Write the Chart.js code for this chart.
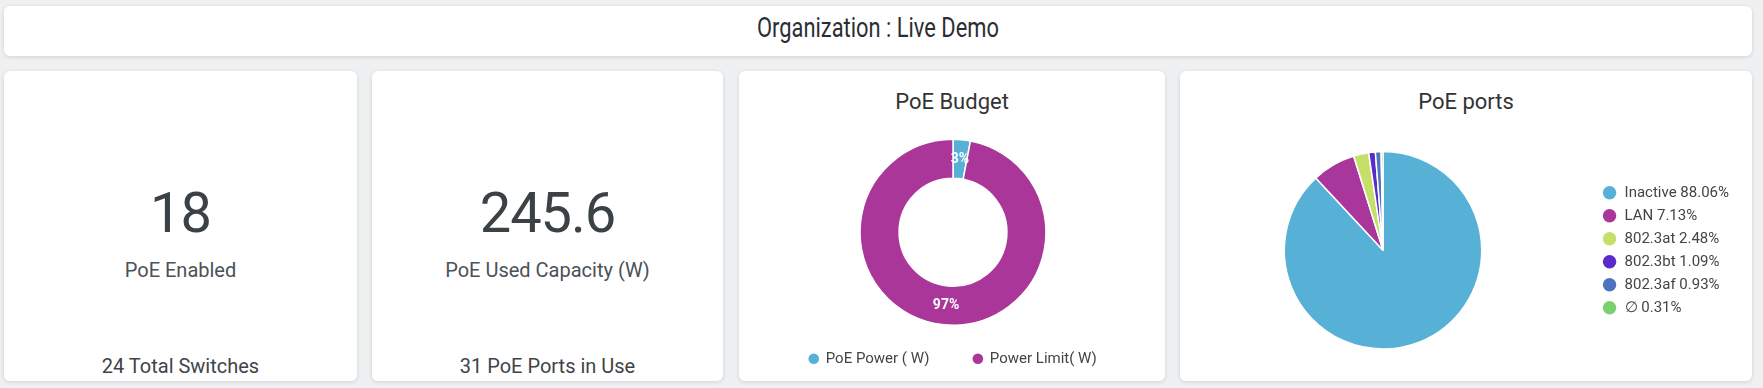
<!DOCTYPE html>
<html><head><meta charset="utf-8">
<script src="https://cdn.jsdelivr.net/npm/chart.js@4.4.1/dist/chart.umd.min.js"></script>
<style>
html,body{margin:0;padding:0;background:#eef0f2;width:1763px;height:388px;overflow:hidden;font-family:Roboto,sans-serif;}
.card{position:absolute;background:#fff;border-radius:6px;box-shadow:0 1px 4px rgba(0,0,0,0.13);}
.txt{position:absolute;left:0;right:0;text-align:center;line-height:1;white-space:nowrap;}
#hdr{left:4px;top:6px;width:1748px;height:50px;}
#hdr .txt{top:8.5px;font-size:27px;color:#2a2e33;transform:scaleX(0.81);transform-origin:center;}
.stat{top:71px;height:310px;}
.big{top:114px;font-size:56px;color:#3b4246;letter-spacing:-1px;}
.lbl{top:189px;font-size:20px;color:#4b5157;}
.foot{top:285px;font-size:20px;color:#3e4449;}
.ctitle{top:20px;font-size:22px;color:#333;}
canvas{position:absolute;left:0;top:0;}
#ports{left:-8px;}
</style></head>
<body>
<div class="card" id="hdr"><div class="txt" id="hdrText"></div></div>
<div class="card stat" id="c1" style="left:4px;width:353px;"></div>
<div class="card stat" id="c2" style="left:372px;width:351px;"></div>
<div class="card stat" id="c3" style="left:739px;width:426px;"><div class="txt ctitle" id="t3"></div><canvas id="budget" width="426" height="310"></canvas></div>
<div class="card stat" id="c4" style="left:1180px;width:572px;"><div class="txt ctitle" id="t4"></div><canvas id="ports" width="567" height="310"></canvas></div>
<script>
const headerTitle = 'Organization : Live Demo';
const statValues = ['18', '245.6'];
const statLabels = ['PoE Enabled', 'PoE Used Capacity (W)'];
const statFooters = ['24 Total Switches', '31 PoE Ports in Use'];
const chartTitles = ['PoE Budget', 'PoE ports'];

const budgetLabels = ['PoE Power ( W)', 'Power Limit( W)'];
const budgetValues = [245.6, 7920];
const budgetColors = ['#57b1d7', '#ab3699'];

const portLabels = ['Inactive', 'LAN', '802.3at', '802.3bt', '802.3af', '\u2205'];
const portValues = [88.06, 7.13, 2.48, 1.09, 0.93, 0.31];
const portColors = ['#57b0d6', '#a9369a', '#c6df69', '#5a2bca', '#4d74c0', '#7bd16f'];

document.getElementById('hdrText').textContent = headerTitle;
['c1','c2'].forEach((id, i) => {
  const c = document.getElementById(id);
  c.innerHTML = '<div class="txt big"></div><div class="txt lbl"></div><div class="txt foot"></div>';
  c.children[0].textContent = statValues[i];
  c.children[1].textContent = statLabels[i];
  c.children[2].textContent = statFooters[i];
});
document.getElementById('t3').textContent = chartTitles[0];
document.getElementById('t4').textContent = chartTitles[1];

const pctPlugin = {
  id: 'pct',
  afterDatasetsDraw(chart) {
    const ctx = chart.ctx;
    const meta = chart.getDatasetMeta(0);
    const data = chart.data.datasets[0].data;
    const total = data.reduce((a, b) => a + b, 0);
    ctx.save();
    ctx.font = 'bold 14px Roboto';
    ctx.fillStyle = '#fff';
    ctx.textAlign = 'center';
    ctx.textBaseline = 'middle';
    meta.data.forEach((arc, i) => {
      const p = arc.tooltipPosition(true);
      ctx.fillText(Math.round(data[i] / total * 100) + '%', p.x, p.y);
    });
    ctx.restore();
  }
};

function noStroke(chart) {
  const items = Chart.overrides.doughnut.plugins.legend.labels.generateLabels(chart);
  items.forEach(it => { it.lineWidth = 0; it.strokeStyle = it.fillStyle; });
  return items;
}

function draw() {
  Chart.defaults.font.family = 'Roboto';
  new Chart(document.getElementById('budget'), {
    type: 'doughnut',
    data: { labels: budgetLabels, datasets: [{ data: budgetValues, backgroundColor: budgetColors, borderColor: '#fff', borderWidth: 1.5 }] },
    options: {
      responsive: false, animation: false, cutout: '58%', radius: 93,
      layout: { padding: { top: 86.2, bottom: 4.7, left: 2, right: 0 } },
      plugins: {
        tooltip: { enabled: false },
        legend: { position: 'bottom', labels: { usePointStyle: true, pointStyle: 'circle', boxWidth: 9, boxHeight: 7.5, padding: 44, color: '#444', font: { size: 15 }, generateLabels: noStroke } }
      }
    },
    plugins: [pctPlugin]
  });
  new Chart(document.getElementById('ports'), {
    type: 'pie',
    data: { labels: portLabels, datasets: [{ data: portValues, backgroundColor: portColors, borderColor: '#fff', borderWidth: 1.5 }] },
    options: {
      responsive: false, animation: false, radius: 98.7,
      layout: { padding: { top: 60, bottom: 11.4, left: 0, right: 0 } },
      plugins: {
        tooltip: { enabled: false },
        legend: { position: 'right', labels: { usePointStyle: true, pointStyle: 'circle', boxWidth: 17, boxHeight: 9.5, padding: 8, color: '#444', font: { size: 15 },
          generateLabels: (chart) => {
            const items = noStroke(chart);
            items.forEach((it, i) => { it.text = portLabels[i] + ' ' + portValues[i].toFixed(2) + '%'; });
            return items;
          } } }
      }
    }
  });
}
Promise.all([document.fonts.load('15px Roboto'), document.fonts.load('bold 14px Roboto')]).then(draw, draw);
</script>
</body></html>
